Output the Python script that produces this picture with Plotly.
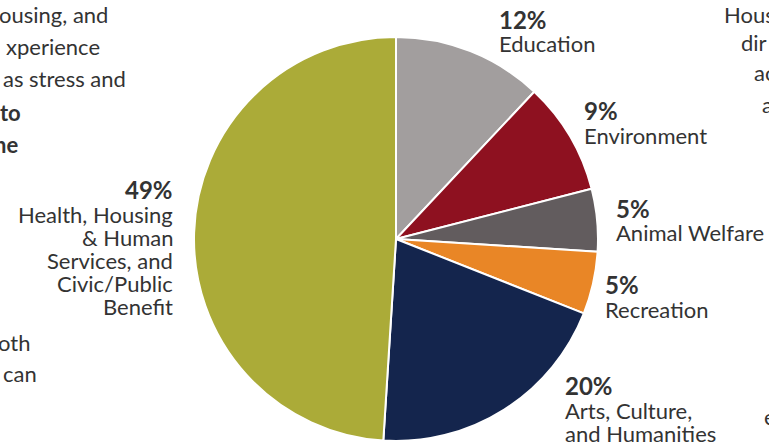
import plotly.graph_objects as go

W, H = 769, 446

categories = ["Education", "Environment", "Animal Welfare", "Recreation",
              "Arts, Culture, and Humanities",
              "Health, Housing & Human Services, and Civic/Public Benefit"]
values = [12, 9, 5, 5, 20, 49]
label_lines = [["Education"], ["Environment"], ["Animal Welfare"], ["Recreation"],
               ["Arts, Culture,", "and Humanities"],
               ["Health, Housing", "& Human", "Services, and", "Civic/Public", "Benefit"]]
colors = ["#a29e9e", "#8e1120", "#625c5e", "#e98626", "#14254d", "#abab38"]

FONT = "Source Sans Pro, Lato, sans-serif"
TXT = "#333333"

def px(x):
    return x / W

def py(y):
    return 1 - y / H

fig = go.Figure(go.Pie(
    labels=categories, values=values, sort=False, direction="clockwise", rotation=0,
    marker=dict(colors=colors, line=dict(color="white", width=2)),
    textinfo="none", hoverinfo="label+percent", showlegend=False,
    domain=dict(x=[px(194), px(598)], y=[py(441), py(37)]),
))

# label placement (pixel anchors): x, y of percentage line, anchor side
label_pos = [(497, 19, "left"), (582, 110, "left"), (614, 208, "left"),
             (603, 284, "left"), (563, 385, "left"), (175, 189, "right")]
LINE = 23
ann = []
for v, lines, (x, y, side) in zip(values, label_lines, label_pos):
    ann.append(dict(x=px(x), y=py(y), text=f"<b>{v}%</b>", xanchor=side, yanchor="middle",
                    showarrow=False, font=dict(family=FONT, size=24, color=TXT)))
    for i, ln in enumerate(lines):
        ann.append(dict(x=px(x), y=py(y + 25 + i * LINE), text=ln, xanchor=side,
                        yanchor="middle", showarrow=False,
                        font=dict(family=FONT, size=22, color=TXT)))

# surrounding page text fragments (clipped by the frame)
left_frag = [("ousing, and", 110, 15, False), ("xperience", 102, 47, False),
             ("as stress and", 128, 78, False), ("to", 23, 112, True),
             ("he", 20, 145, True), ("oth", 32, 342, False), ("can", 39, 373, False)]
for t, x, y, b in left_frag:
    ann.append(dict(x=px(x), y=py(y), text=f"<b>{t}</b>" if b else t, xanchor="right",
                    yanchor="middle", showarrow=False,
                    font=dict(family=FONT, size=22, color=TXT)))
right_frag = [("Hous", 722, 15), ("dir", 739, 42), ("ac", 752, 72), ("a", 760, 104),
              ("e", 762, 416)]
for t, x, y in right_frag:
    ann.append(dict(x=px(x), y=py(y), text=t, xanchor="left", yanchor="middle",
                    showarrow=False, font=dict(family=FONT, size=22, color=TXT)))

fig.update_layout(width=W, height=H, margin=dict(l=0, r=0, t=0, b=0),
                  paper_bgcolor="white", plot_bgcolor="white", annotations=ann,
                  font=dict(family=FONT, color=TXT))
fig.write_html("out.html", config={"displayModeBar": False},
               post_script="document.body.style.margin='0';document.body.style.overflow='hidden';")
